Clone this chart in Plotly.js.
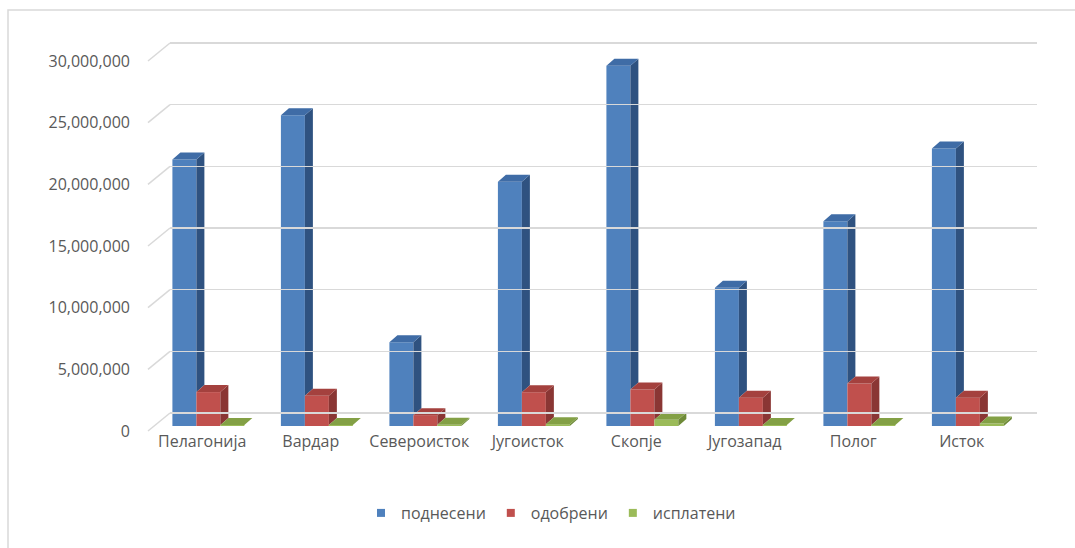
<!DOCTYPE html>
<html>
<head>
<meta charset="utf-8">
<script src="https://cdn.plot.ly/plotly-3.0.1.min.js"></script>
<style>html,body{margin:0;padding:0;background:#fff;}#chart{width:1075px;height:548px;}</style>
</head>
<body>
<div id="chart"></div>
<script>
// ---- data ----
const categories = ['Пелагонија', 'Вардар', 'Североисток', 'Југоисток', 'Скопје', 'Југозапад', 'Полог', 'Исток'];
const seriesNames = ['поднесени', 'одобрени', 'исплатени'];
const podneseni = [21600000, 25200000, 6800000, 19800000, 29200000, 11200000, 16600000, 22500000];
const odobreni  = [2750000, 2450000, 880000, 2740000, 2950000, 2300000, 3450000, 2300000];
const isplateni = [80000, 80000, 100000, 150000, 500000, 80000, 80000, 200000];
const yTicks = [0, 5000000, 10000000, 15000000, 20000000, 25000000, 30000000];

// ---- styling / geometry ----
const FONT = '"Open Sans", "Noto Sans", sans-serif';
const TXT = '#595959';
const GRID = '#D9D9D9';
const W = 889, H = 390;             // plot area size in px
const pxPerUnitX = 108.5;           // category spacing
const pxPerM = 370 / 30000000;      // px per value unit
const barW = 0.221;
const offsets = [-0.275, -0.275 + barW, -0.275 + 2 * barW];
const depthX = 8 / pxPerUnitX;      // bar depth (x units)
const depthY = 7 / pxPerM;          // bar depth (y units)
const colors = [
  {front: '#4F81BD', side: '#2F5280', top: '#3F6CA6'},
  {front: '#C0504D', side: '#8A3634', top: '#A4413E'},
  {front: '#9BBB59', side: '#6E8A38', top: '#83A045'}
];
const allSeries = [podneseni, odobreni, isplateni];
const idx = categories.map((c, i) => i);

const traces = [];
// front faces as bars
allSeries.forEach((vals, s) => {
  traces.push({
    type: 'bar', x: idx, y: vals, offset: offsets[s], width: barW,
    marker: {color: colors[s].front, line: {width: 0}},
    name: seriesNames[s], showlegend: false, hoverinfo: 'y+name',
    xaxis: 'x', yaxis: 'y'
  });
});
// side and top faces
allSeries.forEach((vals, s) => {
  const sx = [], sy = [], tx = [], ty = [];
  vals.forEach((v, i) => {
    const xl = i + offsets[s], xr = xl + barW;
    const next = s < allSeries.length - 1 ? Math.min(allSeries[s + 1][i], v) : 0;
    sx.push(xr, xr + depthX, xr + depthX, xr, xr, null);
    sy.push(next, next + depthY, v + depthY, v, next, null);
    tx.push(xl, xl + depthX, xr + depthX, xr, xl, null);
    ty.push(v, v + depthY, v + depthY, v, v, null);
  });
  traces.push({type: 'scatter', mode: 'lines', x: sx, y: sy, fill: 'toself',
    fillcolor: colors[s].side, line: {width: 0, color: colors[s].side},
    hoverinfo: 'skip', showlegend: false, xaxis: 'x', yaxis: 'y'});
  traces.push({type: 'scatter', mode: 'lines', x: tx, y: ty, fill: 'toself',
    fillcolor: colors[s].top, line: {width: 0, color: colors[s].top},
    hoverinfo: 'skip', showlegend: false, xaxis: 'x', yaxis: 'y'});
});
// legend entries
seriesNames.forEach((n, s) => {
  traces.push({type: 'scatter', mode: 'markers', x: [null], y: [null], name: n,
    marker: {symbol: 'square', size: 8, color: colors[s].front},
    xaxis: 'x', yaxis: 'y', hoverinfo: 'skip'});
});
// anchor traces for helper subplots
traces.push({type: 'scatter', x: [], y: [], xaxis: 'x2', yaxis: 'y2', showlegend: false, hoverinfo: 'skip'});
traces.push({type: 'scatter', x: [], y: [], xaxis: 'x3', yaxis: 'y3', showlegend: false, hoverinfo: 'skip'});

// wall diagonals from front tick to back gridline (paper coordinates)
const floorDX = 22, floorDY = 18;
const shapes = yTicks.map(v => ({
  type: 'line', xref: 'paper', yref: 'paper',
  x0: 0, x1: floorDX / W,
  y0: (v * pxPerM) / H, y1: (v * pxPerM + floorDY) / H,
  line: {color: GRID, width: 1.5}, layer: 'below'
}));
// outer frame
shapes.push({type: 'rect', xref: 'paper', yref: 'paper',
  x0: (8 - 148) / W, x1: 1.12, y0: -0.45, y1: (431 - 10) / H,
  line: {color: GRID, width: 1.5}, fillcolor: 'rgba(0,0,0,0)', layer: 'below'});

const range = [0, 30000000];
const pad = 100000;
const padPx = pad * pxPerM;
const layout = {
  width: 1075, height: 548,
  margin: {l: 148, r: 1075 - 148 - W, t: 431 - H, b: 548 - 431, pad: 0},
  paper_bgcolor: '#fff', plot_bgcolor: 'rgba(0,0,0,0)',
  font: {family: FONT, size: 16, color: TXT},
  barmode: 'overlay',
  showlegend: true,
  legend: {orientation: 'h', x: (551 - 148) / W, xanchor: 'center', y: (431 - 513) / H, yanchor: 'middle',
    font: {family: FONT, size: 16, color: TXT}, itemwidth: 30, traceorder: 'normal'},
  // bars + category labels
  xaxis: {domain: [0, 868 / W], range: [-0.5, 7.5], anchor: 'y',
    tickmode: 'array', tickvals: idx, ticktext: categories, ticks: '', ticklabelstandoff: 4,
    showgrid: false, zeroline: false, showline: false, fixedrange: true,
    tickfont: {family: FONT, size: 16, color: TXT}},
  yaxis: {domain: [5 / H, 375 / H], range: range, anchor: 'x',
    showgrid: false, zeroline: false, showline: false, showticklabels: false, ticks: ''},
  // back gridlines
  xaxis2: {domain: [floorDX / W, 1], range: [0, 1], anchor: 'y2',
    showgrid: false, zeroline: false, showline: false, showticklabels: false, ticks: ''},
  yaxis2: {domain: [(floorDY - padPx) / H, (floorDY + 370 + padPx) / H], range: [-pad, 30000000 + pad], anchor: 'x2',
    tickmode: 'array', tickvals: yTicks, showgrid: true, gridcolor: GRID, gridwidth: 1.5,
    zeroline: false, showline: false, showticklabels: false, ticks: ''},
  // front tick labels
  xaxis3: {domain: [0, 868 / W], range: [0, 1], anchor: 'y3', visible: false},
  yaxis3: {domain: [0, 370 / H], range: range, anchor: 'x3',
    tickmode: 'array', tickvals: yTicks, tickformat: ',d', showgrid: false,
    zeroline: false, showline: false, ticks: '', ticklabelstandoff: 17,
    tickfont: {family: FONT, size: 16, color: TXT}},
  shapes: shapes
};

Plotly.newPlot('chart', traces, layout, {displayModeBar: false, staticPlot: true});
</script>
</body>
</html>
